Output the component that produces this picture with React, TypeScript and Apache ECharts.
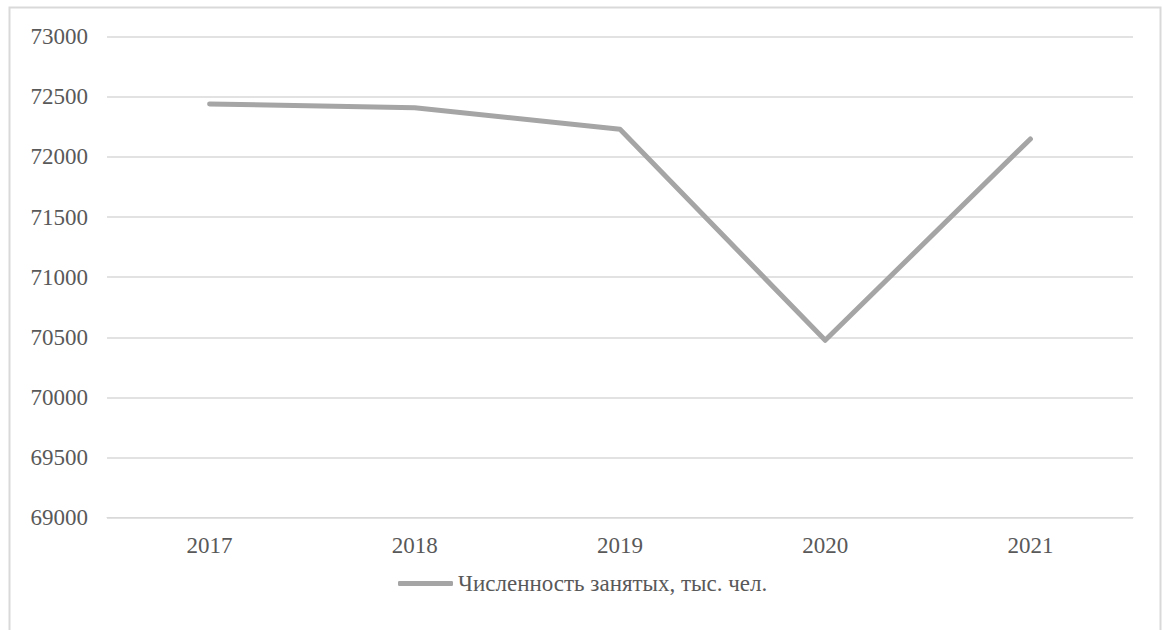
import React, { useEffect, useRef } from "react";
import * as echarts from "echarts";

const categories = ["2017", "2018", "2019", "2020", "2021"];
const employed = [72440, 72410, 72230, 70475, 72150];
const seriesName = "Численность занятых, тыс. чел.";
const yMin = 69000;
const yMax = 73000;
const yStep = 500;

const FONT = "'Liberation Serif', 'Times New Roman', serif";

export default function App() {
  const ref = useRef<HTMLDivElement>(null);
  useEffect(() => {
    if (!ref.current) return;
    const chart = echarts.init(ref.current, undefined, { renderer: "svg" });
    chart.setOption({
      animation: false,
      backgroundColor: "#ffffff",
      textStyle: { fontFamily: FONT },
      graphic: [
        {
          type: "rect",
          shape: { x: 9.5, y: 7.5, width: 1151, height: 640 },
          style: { fill: "none", stroke: "#d9d9d9", lineWidth: 2 },
          silent: true,
        },
      ],
      grid: { left: 107, right: 29, top: 36.7, bottom: 112.3, containLabel: false },
      legend: {
        show: true,
        left: 398,
        top: 572,
        padding: 0,
        icon: "roundRect",
        itemWidth: 55,
        itemHeight: 5,
        textStyle: { fontFamily: FONT, fontSize: 23, color: "#595959" },
        data: [seriesName],
      },
      xAxis: {
        type: "category",
        data: categories,
        boundaryGap: true,
        axisLine: { show: true, lineStyle: { color: "#d9d9d9", width: 1 } },
        axisTick: { show: false },
        axisLabel: { fontFamily: FONT, fontSize: 23, color: "#595959", margin: 16 },
      },
      yAxis: {
        type: "value",
        min: yMin,
        max: yMax,
        interval: yStep,
        axisLine: { show: false },
        axisTick: { show: false },
        splitLine: { lineStyle: { color: "#d9d9d9", width: 1.5 } },
        axisLabel: {
          fontFamily: FONT,
          fontSize: 23,
          color: "#595959",
          margin: 19,
          formatter: (v: number) => String(v),
        },
      },
      series: [
        {
          name: seriesName,
          type: "line",
          data: employed,
          showSymbol: false,
          symbol: "none",
          itemStyle: { color: "#a5a5a5" },
          lineStyle: { color: "#a5a5a5", width: 5, cap: "round", join: "round" },
        },
      ],
    });
    return () => chart.dispose();
  }, []);
  return (
    <div
      ref={ref}
      style={{ position: "absolute", left: 0, top: 0, width: 1162, height: 630 }}
    />
  );
}
